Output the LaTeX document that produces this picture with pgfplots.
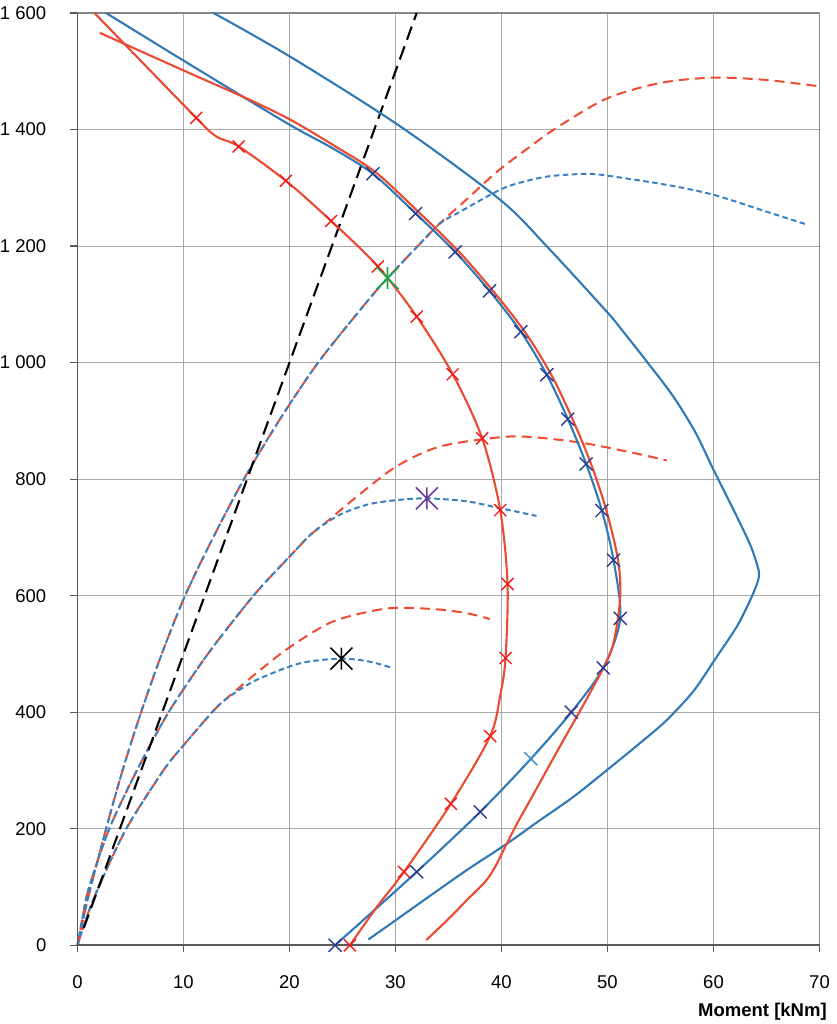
\documentclass[border=0pt]{standalone}
\usepackage{pgfplots}
\pgfplotsset{compat=1.18}
\usepackage{fontspec}
\setmainfont{Liberation Sans}
\definecolor{redline}{HTML}{EB4A32}
\definecolor{redmark}{HTML}{F01A1A}
\definecolor{blueline}{HTML}{3178B6}
\definecolor{bluemark}{HTML}{2B3C8E}
\definecolor{bluemarklight}{HTML}{3A8AC8}
\definecolor{reddash}{HTML}{EE4B30}
\definecolor{bluedash}{HTML}{3A80C0}
\definecolor{stargreen}{HTML}{1FA64A}
\definecolor{starpurple}{HTML}{6A3D9A}
\definecolor{gridgray}{HTML}{A8A8A8}
\definecolor{framegray}{HTML}{858585}
\definecolor{axisdark}{HTML}{595959}
\pgfdeclareplotmark{bigx}{%
  \pgfpathmoveto{\pgfqpoint{-\pgfplotmarksize}{-\pgfplotmarksize}}%
  \pgfpathlineto{\pgfqpoint{\pgfplotmarksize}{\pgfplotmarksize}}%
  \pgfpathmoveto{\pgfqpoint{-\pgfplotmarksize}{\pgfplotmarksize}}%
  \pgfpathlineto{\pgfqpoint{\pgfplotmarksize}{-\pgfplotmarksize}}%
  \pgfusepathqstroke}
\pgfdeclareplotmark{xstar}{%
  \pgfpathmoveto{\pgfqpoint{-\pgfplotmarksize}{-\pgfplotmarksize}}%
  \pgfpathlineto{\pgfqpoint{\pgfplotmarksize}{\pgfplotmarksize}}%
  \pgfpathmoveto{\pgfqpoint{-\pgfplotmarksize}{\pgfplotmarksize}}%
  \pgfpathlineto{\pgfqpoint{\pgfplotmarksize}{-\pgfplotmarksize}}%
  \pgfpathmoveto{\pgfqpoint{0pt}{-\pgfplotmarksize}}%
  \pgfpathlineto{\pgfqpoint{0pt}{\pgfplotmarksize}}%
  \pgfusepathqstroke}
\pgfplotsset{
  rdash/.style={reddash, line width=2pt, dash pattern=on 10pt off 6pt, smooth},
  bdash/.style={bluedash, line width=2pt, dash pattern=on 5.5pt off 3.5pt, smooth},
  solidline/.style={line width=2.1pt, smooth},
}
\begin{document}
\begin{tikzpicture}
\begin{axis}[
  at={(0,0)}, anchor=south west,
  scale only axis, width=742pt, height=932.3pt,
  xmin=0, xmax=70, ymin=0, ymax=1600,
  xtick={0,10,...,70}, ytick={0,200,...,1600},
  grid=major, grid style={draw=gridgray, line width=0.8pt},
  axis line style={draw=framegray, line width=1.6pt},
  tick align=outside, xtick pos=left, ytick pos=left,
  major tick length=7pt,
  tick style={draw=axisdark, line width=1.2pt},
  ticklabel style={font=\fontsize{18.5}{22}\selectfont},
  yticklabel style={anchor=east, inner sep=0pt, xshift=-24pt},
  xticklabel style={anchor=north, inner sep=0pt, yshift=-22.7pt},
  /pgf/number format/.cd, 1000 sep={\ }, assume math mode=true,
  /pgfplots/.cd,
  clip=false,
  xlabel={Moment [kNm]},
  xlabel style={at={(rel axis cs:1,0)}, anchor=base east, inner sep=0pt,
    xshift=7.4pt, yshift=-71.2pt, font=\fontsize{18.5}{22}\selectfont\bfseries},
]
% ---- dashed pair C
\addplot[rdash] coordinates {
(0,0)(0.9,50)(2.0,100)(4.6,200)(8.1,300)(9.9,341)(12.7,400)(13.9,421)
(15.5,446)(17.2,472)(20.06,512)(24.15,556)(29.2,578)(33.6,577)(36.7,570)(38.9,560)};
\addplot[bdash] coordinates {
(0,0)(0.9,50)(2.0,100)(4.6,200)(8.1,300)(9.9,341)(12.7,400)(13.9,421)
(15.5,441)(17.2,458)(21.0,484)(24.8,492)(27.5,487)(29.5,477)};
% ---- dashed pair B
\addplot[rdash] coordinates {
(0,0)(0.5,50)(1.1,100)(3.0,200)(5.6,300)(8.6,400)(12.3,500)(16.6,600)(20.0,667)(21.95,704)(23.2,722)
(26.35,770)(30.1,822)(34.2,856)(39.9,872)(43.0,872)(47.7,862)(52.45,845)(55.6,832)};
\addplot[bdash] coordinates {
(0,0)(0.5,50)(1.1,100)(3.0,200)(5.6,300)(8.6,400)(12.3,500)(16.6,600)(20.0,667)(21.95,704)(23.2,722)
(25.1,742)(27.5,757)(30.1,764)(33.0,767)(36.7,762)(39.9,750)(43.3,737)};
% ---- dashed pair A
\addplot[rdash] coordinates {
(0,0)(0.6,50)(1.25,100)(2.7,200)(4.25,300)(6.0,400)(7.95,500)(10.15,600)(12.8,700)(15.7,800)(19.0,900)(22.7,1000)(27.1,1100)(29.25,1145)(32.1,1200)(34.2,1239)
(36.7,1280)(39.6,1328)(42.5,1368)(45.2,1403)(49.9,1453)(55.0,1480)(60.0,1489)(65.0,1485)(70.0,1474)};
\addplot[bdash] coordinates {
(0,0)(0.6,50)(1.25,100)(2.7,200)(4.25,300)(6.0,400)(7.95,500)(10.15,600)(12.8,700)(15.7,800)(19.0,900)(22.7,1000)(27.1,1100)(29.25,1145)(32.1,1200)(34.2,1239)
(36.1,1259)(39.9,1297)(42.2,1311)(44.6,1320)(48.0,1324)(49.9,1321)(55.6,1305)(60.0,1288)(65.0,1259)(68.8,1237)};
% ---- black dashed line
\addplot[black, line width=2.1pt, dash pattern=on 14pt off 7pt] coordinates {
(0.6,30)(8.0,400)(16.0,800)(24.0,1200)(32.0,1600)};
% ---- blue outer solid
\addplot[blueline, solidline] coordinates {
(27.45,10)(30.4,48)(33.5,88)(36.8,130)(40.4,173)(43.5,213)(46.8,255)(49.9,300)(53.0,346)(55.5,385)(58.1,436)(60.3,495)(62.2,547)(63.4,590)(64.1,620)(64.3,638)(64.0,660)(63.4,690)(61.9,747)(60.0,816)(58.3,880)(56.2,942)(53.7,1002)(51.36,1056)(49.9,1088)(44.3,1199)(39.9,1279)(30.4,1406)(20.07,1525)(12.83,1600)};
% ---- blue inner solid
\addplot[blueline, solidline] coordinates {
(24.3,0)(32.0,126)(37.99,229)(42.77,320)(46.58,400)(49.6,476)(51.2,561)(50.57,661)(49.47,746)(47.99,826)(46.26,903)(44.28,979)(41.83,1053)(38.87,1123)(35.63,1190)(31.9,1256)(27.87,1324)(24.15,1367)(19.75,1411)(10.3,1515)(2.7,1600)};
% ---- red outer solid
\addplot[redline, solidline] coordinates {
(32.9,9)(35.1,47)(36.7,77)(38.5,110)(39.5,138)(40.4,171)(41.5,210)(42.7,249)(45.5,341)(47.8,415)(50.0,490)(50.7,530)(51.2,598)(51.0,661)(49.9,746)(48.45,826)(46.7,903)(44.7,979)(42.2,1053)(39.2,1123)(36.0,1190)(32.2,1258)(28.1,1327)(24.15,1373)(20.07,1417)(16.0,1453)(10.3,1499)(2.1,1566)};
% ---- red inner solid
\addplot[redline, solidline] coordinates {
(25.7,0)(28.25,66)(30.8,126)(35.23,243)(38.93,359)(39.9,431)(40.38,493)(40.57,620)(39.88,747)(38.18,870)(35.4,980)(32.0,1079)(28.34,1165)(23.93,1243)(19.66,1312)(15.2,1371)(13.1,1388)(11.2,1420)(1.6,1600)};
% ---- markers
\addplot[only marks, mark=bigx, mark size=6pt, mark options={draw=redmark, line width=1.4pt}] coordinates {
(11.2,1420)(15.2,1371)(19.66,1312)(23.93,1243)(28.34,1165)(32.0,1079)(35.4,980)(38.18,870)(39.88,747)(40.57,620)(40.38,493)(38.93,359)(35.23,243)(30.8,126)(25.7,0)};
\addplot[only marks, mark=bigx, mark size=6.5pt, mark options={draw=bluemark, line width=1.4pt}] coordinates {
(27.87,1324)(31.9,1256)(35.63,1190)(38.87,1123)(41.83,1053)(44.28,979)(46.26,903)(47.99,826)(49.47,746)(50.57,661)(51.2,561)(49.6,476)(46.58,400)(37.99,229)(32.0,126)(24.3,0)};
\addplot[only marks, mark=bigx, mark size=6.5pt, mark options={draw=bluemarklight, line width=1.4pt}] coordinates {(42.77,320)};
% ---- stars
\addplot[only marks, mark=xstar, mark size=11pt, mark options={draw=stargreen, line width=1.6pt}] coordinates {(29.25,1145)};
\addplot[only marks, mark=xstar, mark size=11pt, mark options={draw=starpurple, line width=1.6pt}] coordinates {(32.96,767)};
\addplot[only marks, mark=xstar, mark size=11pt, mark options={draw=black, line width=1.6pt}] coordinates {(24.9,492)};
\draw[axisdark, line width=1.8pt] (rel axis cs:0,1) -- (rel axis cs:0,0) -- (rel axis cs:1,0);
\end{axis}
\path (-77.3pt,-78.7pt) rectangle (758.7pt,945.3pt);
\end{tikzpicture}
\end{document}
